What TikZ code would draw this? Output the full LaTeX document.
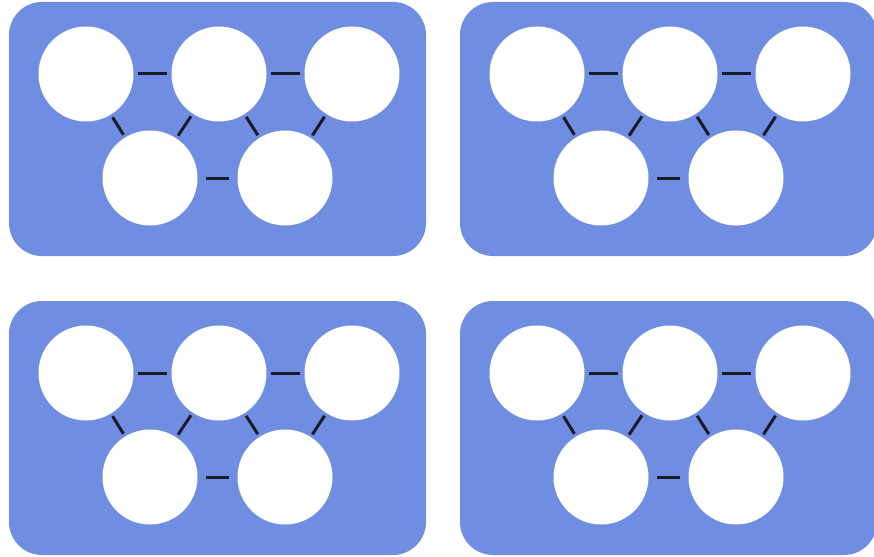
\documentclass[tikz,border=0pt]{standalone}
\usetikzlibrary{positioning}
\definecolor{panelblue}{RGB}{112,142,225}
\definecolor{linkdark}{RGB}{25,28,40}

\begin{document}
\begin{tikzpicture}[x=1pt,y=-1pt,
  hole/.style={circle,fill=white,minimum size=95pt,inner sep=0pt},
  link/.style={linkdark,line width=3pt}]
  \useasboundingbox (0,0) rectangle (874,556);
  \foreach \dx/\dy/\p in {0/0/a,451/0/b,0/299/c,451/299/d}{
    \begin{scope}[shift={(\dx,\dy)}]
      \fill[panelblue,rounded corners=33pt] (9,2) rectangle (426,256);
      % fuenf Kreise
      \node[hole] (\p1) at (86,74){};
      \node[hole] (\p2) at (219,74){};
      \node[hole] (\p3) at (352,74){};
      \node[hole] (\p4) at (150,178){};
      \node[hole] (\p5) at (285,178){};
      % Verbindungen
      \draw[link,shorten <=4pt,shorten >=4pt] (\p1)--(\p2);
      \draw[link,shorten <=4pt,shorten >=4pt] (\p2)--(\p3);
      \draw[link,shorten <=8pt,shorten >=8pt] (\p4)--(\p5);
      \draw[link,shorten <=3pt,shorten >=3pt] (\p1)--(\p4);
      \draw[link,shorten <=3pt,shorten >=3pt] (\p2)--(\p4);
      \draw[link,shorten <=3pt,shorten >=3pt] (\p2)--(\p5);
      \draw[link,shorten <=3pt,shorten >=3pt] (\p3)--(\p5);
    \end{scope}
  }
\end{tikzpicture}
\end{document}
